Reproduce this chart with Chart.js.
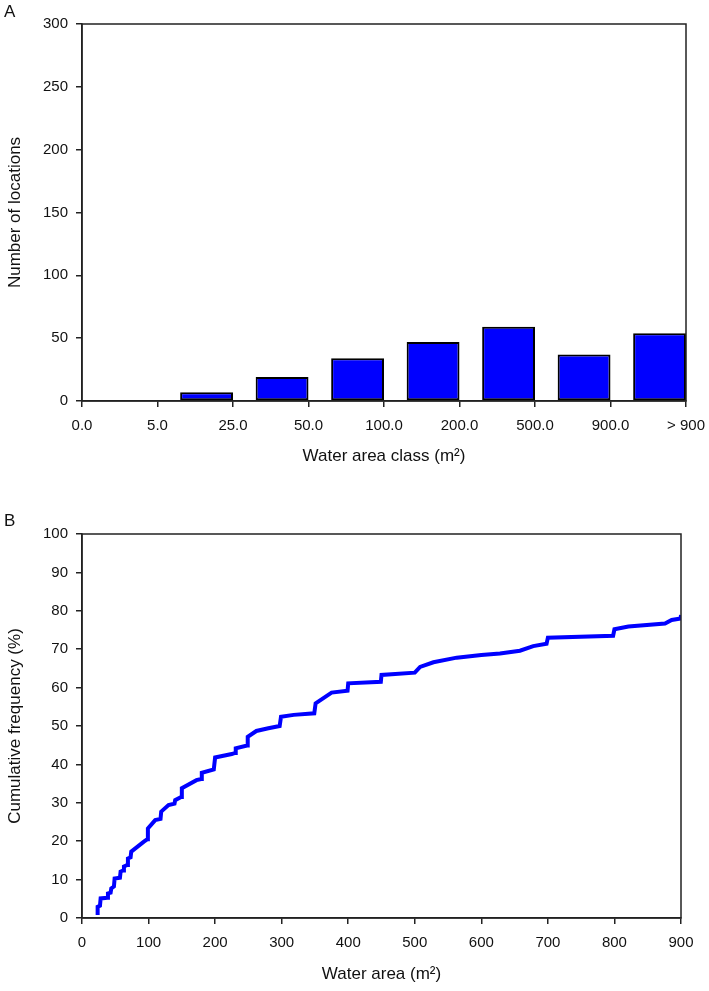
<!DOCTYPE html>
<html>
<head>
<meta charset="utf-8">
<script src="https://cdn.jsdelivr.net/npm/chart.js@4.4.1/dist/chart.umd.min.js"></script>
<style>
  body { margin: 0; background: #fff; font-family: "Liberation Sans", Arial, sans-serif; }
  .panel { position: absolute; left: 0; width: 709px; }
  .tag { position: absolute; left: 4px; font-size: 17px; color: #111; z-index: 2; }
</style>
</head>
<body>
<div class="tag" style="top:2px">A</div>
<div class="panel" style="top:0;height:470px"><canvas id="classChart" width="709" height="470"></canvas></div>
<div class="tag" style="top:511px">B</div>
<div class="panel" style="top:470px;height:521px"><canvas id="cumChart" width="709" height="521"></canvas></div>
<script>
// panel A: number of locations per water area class
const classLabels = ['0.0', '5.0', '25.0', '50.0', '100.0', '200.0', '500.0', '900.0', '> 900']
const classCounts = [0, 7, 19, 34, 47, 59, 37, 54]

// panel B: cumulative frequency curve
const waterArea = [23.5, 23.5, 27, 28, 38, 39, 43, 44, 48, 49, 57, 58, 62, 63, 68, 69, 73, 74, 93, 98,
  99, 110, 118, 119, 130, 139, 140, 149, 150, 172, 179, 180, 198, 200, 225, 230, 231, 248, 249, 262,
  280, 297, 299, 318, 349, 351, 375, 399, 400, 449, 450, 500, 508, 528, 563, 600, 628, 658, 678, 698,
  700, 798, 800, 821, 876, 886, 899.5, 900]
const cumFreq = [0.8, 2.9, 3.2, 5.1, 5.3, 6.4, 6.6, 7.7, 8.2, 10.3, 10.5, 12.1, 12.4, 13.4, 13.8, 15.5, 15.8, 17.3, 19.9, 20.5,
  23.3, 25.5, 25.8, 27.7, 29.4, 29.8, 30.7, 31.5, 33.8, 35.9, 36.2, 37.8, 38.7, 41.8, 42.7, 43, 44.2, 44.9, 47.2, 48.7,
  49.4, 50, 52.4, 52.9, 53.3, 55.9, 58.7, 59.2, 61.1, 61.5, 63.3, 63.9, 65.4, 66.6, 67.8, 68.5, 68.9, 69.6, 70.8, 71.4,
  73.0, 73.5, 75.2, 75.9, 76.7, 77.6, 78.0, 78.9]

const axisColor = '#222'
Chart.defaults.font.family = '"Liberation Sans", Arial, sans-serif'
Chart.defaults.color = '#111'

const framePlugin = {
  id: 'frame',
  afterDraw(chart) {
    const { ctx, chartArea: a } = chart
    ctx.save()
    ctx.strokeStyle = axisColor
    ctx.lineWidth = 1.5
    ctx.strokeRect(a.left, a.top, a.right - a.left, a.bottom - a.top)
    ctx.restore()
  }
}

const tickGrid = { drawOnChartArea: false, drawTicks: true, tickLength: 6, color: axisColor, lineWidth: 1.5, offset: false }
const axisBorder = { display: true, color: axisColor, width: 1.5 }

// keep the plot box where the layout padding puts it, labels may overhang
const fixHeight = h => s => { s.height = h; s.paddingLeft = 0; s.paddingRight = 0 }

// bars sit against the right-hand tick of their class
const barShare = 0.7
var classChart = new Chart(document.getElementById('classChart'), {
  type: 'bar',
  data: {
    datasets: [{
      data: classCounts.map((c, i) => ({ x: i + 1 - barShare / 2, y: c })),
      backgroundColor: '#0000ff',
      borderColor: '#000',
      borderWidth: 2,
      borderSkipped: false,
      categoryPercentage: 1,
      barPercentage: barShare
    }]
  },
  options: {
    responsive: false,
    animation: false,
    layout: { padding: { top: 24, right: 23 } },
    plugins: { legend: { display: false }, tooltip: { enabled: false } },
    scales: {
      x: {
        type: 'linear', min: 0, max: classLabels.length - 1, offset: false,
        grid: tickGrid, border: axisBorder,
        ticks: { stepSize: 1, padding: 10, font: { size: 15 }, callback: v => classLabels[v] },
        title: { display: true, text: 'Water area class (m²)', font: { size: 17 }, padding: { top: 0, bottom: 3 } },
        afterFit: fixHeight(69)
      },
      y: {
        min: 0, max: 300,
        grid: tickGrid, border: axisBorder,
        ticks: { stepSize: 50, padding: 8, font: { size: 15 } },
        title: { display: true, text: 'Number of locations', font: { size: 17 }, padding: { top: 5, bottom: 0 } },
        afterFit: s => { s.width = 82 }
      }
    }
  },
  plugins: [framePlugin]
})

var cumChart = new Chart(document.getElementById('cumChart'), {
  type: 'line',
  data: {
    datasets: [{
      data: waterArea.map((x, i) => ({ x: x, y: cumFreq[i] })),
      borderColor: '#0000ff',
      borderWidth: 4,
      pointRadius: 0,
      tension: 0,
      fill: false
    }]
  },
  options: {
    responsive: false,
    animation: false,
    layout: { padding: { top: 64, right: 28 } },
    plugins: { legend: { display: false }, tooltip: { enabled: false } },
    scales: {
      x: {
        type: 'linear', min: 0, max: 900,
        grid: tickGrid, border: axisBorder,
        ticks: { stepSize: 100, padding: 10, font: { size: 15 } },
        title: { display: true, text: 'Water area (m²)', font: { size: 17 }, padding: { top: 0, bottom: 6 } },
        afterFit: fixHeight(73)
      },
      y: {
        min: 0, max: 100,
        grid: tickGrid, border: axisBorder,
        ticks: { stepSize: 10, padding: 8, font: { size: 15 } },
        title: { display: true, text: 'Cumulative frequency (%)', font: { size: 17 }, padding: { top: 5, bottom: 0 } },
        afterFit: s => { s.width = 82 }
      }
    }
  },
  plugins: [framePlugin]
})
</script>
</body>
</html>
